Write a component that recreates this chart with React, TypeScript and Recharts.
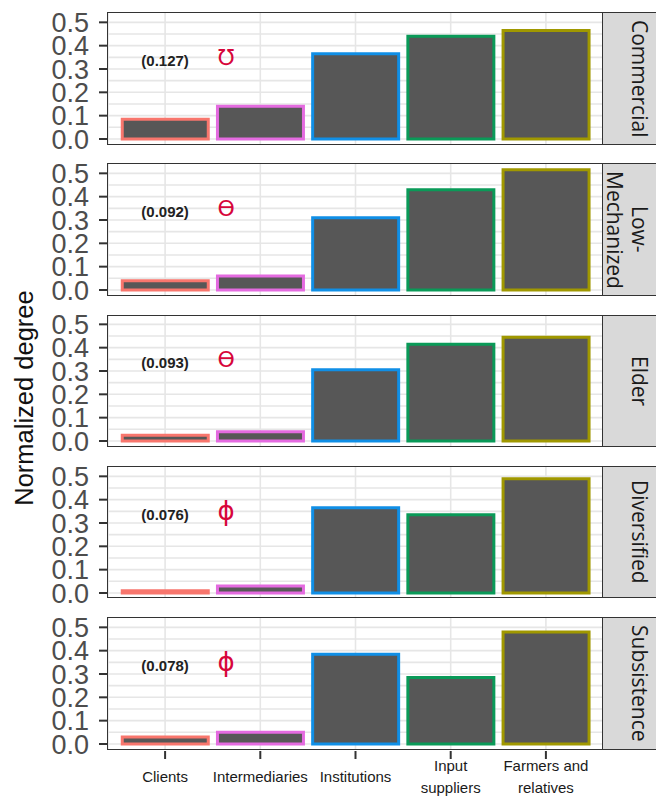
import React from "react";
import { BarChart, Bar, XAxis, YAxis, CartesianGrid, Cell, ReferenceDot } from "recharts";

const categories = ["Clients", "Intermediaries", "Institutions", "Input suppliers", "Farmers and relatives"];
const tickLabels = [["Clients"], ["Intermediaries"], ["Institutions"], ["Input", "suppliers"], ["Farmers and", "relatives"]];
const facets = ["Commercial", "Low-\nMechanized", "Elder", "Diversified", "Subsistence"];

const commercial = [0.085, 0.14, 0.365, 0.44, 0.465];
const lowMechanized = [0.04, 0.06, 0.31, 0.43, 0.515];
const elder = [0.025, 0.04, 0.305, 0.415, 0.445];
const diversified = [0.01, 0.03, 0.365, 0.335, 0.49];
const subsistence = [0.03, 0.05, 0.385, 0.285, 0.48];
const facetValues = [commercial, lowMechanized, elder, diversified, subsistence];

const modularity = ["(0.127)", "(0.092)", "(0.093)", "(0.076)", "(0.078)"];
const symbols = ["\u2127", "\u03F4", "\u03F4", "\u03D5", "\u03D5"];

const yTicks = [0, 0.1, 0.2, 0.3, 0.4, 0.5];
const gridY = [0, 0.05, 0.1, 0.15, 0.2, 0.25, 0.3, 0.35, 0.4, 0.45, 0.5];

const strokeColors = ["#F8766D", "#E46BE0", "#108FE6", "#0A9A58", "#A09800"];

const PANEL_TOP = 13;
const PANEL_STEP = 151.2;
const PANEL_H = 131;
const PAD = 16;
const PLOT_LEFT = 108;
const PLOT_RIGHT = 603;
const FONT = "'Liberation Sans', Arial, sans-serif";

function XTick(props: any) {
  const { x, y, index } = props;
  const lines = tickLabels[index] || [];
  const lh = 22;
  const startY = y + 18 - ((lines.length - 1) * lh) / 2;
  return (
    <g>
      <line x1={x} x2={x} y1={y - 8} y2={y} stroke="#333" strokeWidth={2} />
      <text x={x} textAnchor="middle" fontSize={15} fontFamily={FONT} fill="#1a1a1a">
        {lines.map((l, i) => (
          <tspan key={i} x={x} y={startY + i * lh + 5}>
            {l}
          </tspan>
        ))}
      </text>
    </g>
  );
}

function Panel({ idx }: { idx: number }) {
  const values = facetValues[idx];
  const rows = categories.map((name, i) => ({ name, v: values[i] }));
  const last = idx === facets.length - 1;
  const top = PANEL_TOP + idx * PANEL_STEP;
  return (
    <>
      <div style={{ position: "absolute", left: 0, top: top - PAD }}>
        <BarChart
          width={656}
          height={PANEL_H + PAD + (last ? 50 : PAD)}
          data={rows}
          margin={{ top: PAD, right: 656 - PLOT_RIGHT, bottom: last ? 0 : PAD, left: 0 }}
          barCategoryGap="5%"
        >
          <CartesianGrid horizontalValues={gridY} stroke="#e6e6e6" strokeWidth={1.6} />
          <XAxis
            dataKey="name"
            hide={!last}
            height={50}
            padding={{ left: 9.5, right: 9.5 }}
            axisLine={false}
            tickLine={false}
            tickSize={8}
            interval={0}
            tick={<XTick />}
          />
          <YAxis
            type="number"
            domain={[-0.0215, 0.54]}
            ticks={yTicks}
            allowDataOverflow
            width={PLOT_LEFT}
            axisLine={false}
            tickSize={9}
            tickMargin={10}
            tickLine={{ stroke: "#333", strokeWidth: 2 }}
            tick={{ fill: "#4d4d4d", fontSize: 27, fontFamily: FONT }}
            tickFormatter={(v: number) => v.toFixed(1)}
            interval={0}
          />
          <Bar dataKey="v" fill="#575757" strokeWidth={3} isAnimationActive={false}>
            {rows.map((r, i) => (
              <Cell key={r.name} stroke={strokeColors[i]} />
            ))}
          </Bar>
          <ReferenceDot
            x="Clients"
            y={0.337}
            r={0}
            shape={(p: any) => (
              <text
                x={p.cx}
                y={p.cy}
                dy="0.35em"
                textAnchor="middle"
                fontSize={15}
                fontWeight="bold"
                fontFamily={FONT}
                fill="#222"
              >
                {modularity[idx]}
              </text>
            )}
          />
          <ReferenceDot
            x="Clients"
            y={0.352}
            r={0}
            shape={(p: any) => (
              <text
                x={p.cx + 61}
                y={p.cy}
                dy="0.35em"
                textAnchor="middle"
                fontSize={idx >= 3 ? 26 : 22}
                fontFamily="'DejaVu Sans', sans-serif"
                fill="#D7063B"
              >
                {symbols[idx]}
              </text>
            )}
          />
        </BarChart>
      </div>
      <div
        style={{
          position: "absolute",
          left: PLOT_LEFT - 0.75,
          top: top - 0.75,
          width: PLOT_RIGHT - PLOT_LEFT + 1.5,
          height: PANEL_H + 1.5,
          border: "1.5px solid #333",
          boxSizing: "border-box",
          pointerEvents: "none",
        }}
      />
      <div
        style={{
          position: "absolute",
          left: PLOT_RIGHT - 0.75,
          top: top - 0.75,
          width: 60,
          height: PANEL_H + 1.5,
          border: "1.5px solid #333",
          boxSizing: "border-box",
          background: "#d9d9d9",
          display: "flex",
          alignItems: "center",
          justifyContent: "flex-start",
        }}
      >
        <div
          style={{
            writingMode: "vertical-rl",
            whiteSpace: "pre",
            textAlign: "center",
            fontSize: 21,
            lineHeight: "25px",
            fontFamily: "'Open Sans', sans-serif",
            color: "#1a1a1a",
            width: 49,
            display: "flex",
            justifyContent: "center",
          }}
        >
          {facets[idx]}
        </div>
      </div>
    </>
  );
}

export default function App() {
  return (
    <div
      style={{
        position: "absolute",
        left: 0,
        top: 0,
        width: 656,
        height: 797,
        background: "#fff",
        overflow: "hidden",
        fontFamily: FONT,
      }}
    >
      <div
        style={{
          position: "absolute",
          left: 24,
          top: 398,
          transform: "translate(-50%, -50%) rotate(-90deg)",
          fontSize: 25.5,
          whiteSpace: "nowrap",
          color: "#111",
        }}
      >
        Normalized degree
      </div>
      {facets.map((f, i) => (
        <Panel key={f} idx={i} />
      ))}
    </div>
  );
}
